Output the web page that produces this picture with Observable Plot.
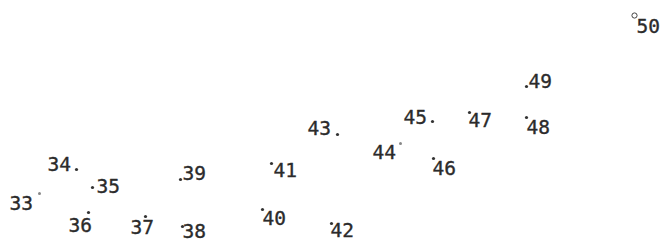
<!DOCTYPE html>
<html>
<head>
<meta charset="utf-8">
<script src="https://cdn.jsdelivr.net/npm/d3@7"></script>
<script src="https://cdn.jsdelivr.net/npm/@observablehq/plot@0.6"></script>
<style>
  html, body { margin: 0; padding: 0; background: #fff; }
</style>
</head>
<body>
<div id="chart"></div>
<script>
// Connect-the-dots points 33..50
const labels = ["33","34","35","36","37","38","39","40","41","42","43","44","45","46","47","48","49","50"];
const dotX   = [39, 76, 92, 88, 145, 182, 180, 262, 271, 331, 337, 400, 432, 433, 469, 526, 526, 634];
const dotY   = [193, 169, 187, 212, 216, 226, 179, 209, 163, 223, 134, 143, 121, 158, 112, 117, 86, 15];
const labelX = [9, 47, 96, 68, 130, 182, 182, 262, 273, 330, 307, 372, 403, 432, 468, 526, 528, 636];
const labelY = [203, 164, 186, 225, 227, 231, 173, 218, 170, 230, 128, 152, 117, 168, 120, 127, 81, 26];
const dotKind = ["open","filled","filled","filled","filled","filled","filled","filled","filled","filled","filled","open","filled","filled","filled","filled","filled","ring"];

const pts = labels.map((l, i) => ({label: l, x: dotX[i], y: dotY[i], lx: labelX[i], ly: labelY[i], kind: dotKind[i]}));

const chart = Plot.plot({
  width: 665,
  height: 242,
  margin: 0,
  x: {domain: [0, 665], axis: null},
  y: {domain: [242, 0], axis: null},
  marks: [
    Plot.text(pts, {
      x: "lx", y: "ly", text: "label",
      textAnchor: "start",
      fontFamily: "DejaVu Sans Mono",
      fontSize: 19.5,
      fill: "#2b2b2b",
      stroke: "#2b2b2b",
      strokeWidth: 0.35,
      style: "letter-spacing: 2px"
    }),
    Plot.dot(pts.filter(d => d.kind === "filled"), {x: "x", y: "y", r: 1.6, fill: "#333", stroke: "none"}),
    Plot.dot(pts.filter(d => d.kind === "open"), {x: "x", y: "y", r: 1.5, fill: "#888", stroke: "none"}),
    Plot.dot(pts.filter(d => d.kind === "ring"), {x: "x", y: "y", r: 2.6, fill: "none", stroke: "#444", strokeWidth: 1})
  ]
});
document.getElementById("chart").appendChild(chart);
</script>
</body>
</html>
